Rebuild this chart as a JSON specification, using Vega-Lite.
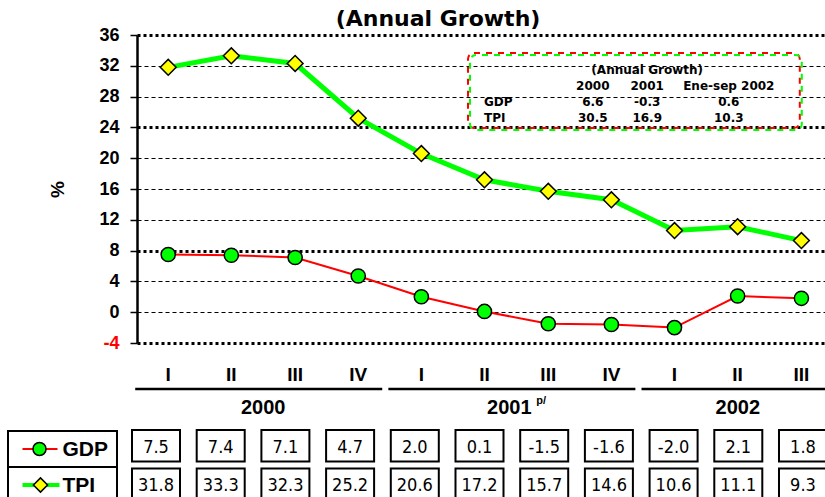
{
  "$schema": "https://vega.github.io/schema/vega-lite/v6.json",
  "width": 688,
  "height": 308,
  "autosize": {"type": "none"},
  "padding": {"left": 137, "top": 35, "right": 0, "bottom": 154},
  "background": "white",
  "config": {
    "view": {"stroke": null},
    "locale": {"number": {"decimal": ".", "thousands": ",", "grouping": [3], "currency": ["$", ""], "minus": "-"}}
  },
  "title": {
    "text": "(Annual Growth)",
    "font": "DejaVu Sans",
    "fontSize": 22,
    "fontWeight": "bold",
    "color": "black",
    "anchor": "middle",
    "frame": "group",
    "dx": -43,
    "offset": -5
  },
  "datasets": {
    "q": [
      {"date": "2000-02-15", "year": "2000", "q": "I", "GDP": 7.5, "TPI": 31.8},
      {"date": "2000-05-16", "year": "2000", "q": "II", "GDP": 7.4, "TPI": 33.3},
      {"date": "2000-08-16", "year": "2000", "q": "III", "GDP": 7.1, "TPI": 32.3},
      {"date": "2000-11-15", "year": "2000", "q": "IV", "GDP": 4.7, "TPI": 25.2},
      {"date": "2001-02-14", "year": "2001", "q": "I", "GDP": 2.0, "TPI": 20.6},
      {"date": "2001-05-16", "year": "2001", "q": "II", "GDP": 0.1, "TPI": 17.2},
      {"date": "2001-08-16", "year": "2001", "q": "III", "GDP": -1.5, "TPI": 15.7},
      {"date": "2001-11-15", "year": "2001", "q": "IV", "GDP": -1.6, "TPI": 14.6},
      {"date": "2002-02-14", "year": "2002", "q": "I", "GDP": -2.0, "TPI": 10.6},
      {"date": "2002-05-16", "year": "2002", "q": "II", "GDP": 2.1, "TPI": 11.1},
      {"date": "2002-08-16", "year": "2002", "q": "III", "GDP": 1.8, "TPI": 9.3}
    ],
    "legend": [{"series": "GDP"}, {"series": "TPI"}],
    "box": [{"name": "box"}],
    "inset": [
      {"row": "title", "col": "2001", "text": "(Annual Growth)"},
      {"row": "head", "col": "2000", "text": "2000"},
      {"row": "head", "col": "2001", "text": "2001"},
      {"row": "head", "col": "Ene-sep 2002", "text": "Ene-sep 2002"},
      {"row": "GDP", "col": "label", "text": "GDP"},
      {"row": "GDP", "col": "2000", "text": "6.6"},
      {"row": "GDP", "col": "2001", "text": "-0.3"},
      {"row": "GDP", "col": "Ene-sep 2002", "text": "0.6"},
      {"row": "TPI", "col": "label", "text": "TPI"},
      {"row": "TPI", "col": "2000", "text": "30.5"},
      {"row": "TPI", "col": "2001", "text": "16.9"},
      {"row": "TPI", "col": "Ene-sep 2002", "text": "10.3"}
    ]
  },
  "resolve": {"scale": {"x": "independent", "y": "independent"}},
  "layer": [
    {
      "data": {"name": "q", "format": {"parse": {"date": "date"}}},
      "transform": [{"fold": ["GDP", "TPI"], "as": ["series", "value"]}],
      "encoding": {
        "x": {
          "field": "date", "type": "temporal",
          "scale": {"domain": [{"year": 2000, "month": 1, "date": 1, "utc": true}, {"year": 2002, "month": 9, "date": 19, "utc": true}]},
          "axis": null
        },
        "y": {
          "field": "value", "type": "quantitative", "title": "%",
          "scale": {"domain": [-4, 36], "nice": false, "zero": false},
          "axis": {
            "values": [-4, 0, 4, 8, 12, 16, 20, 24, 28, 32, 36],
            "labelOverlap": false,
            "labelBound": false,
            "title": "%",
            "titleFont": "Liberation Sans", "titleFontSize": 19, "titleFontWeight": "bold", "titleColor": "black", "titlePadding": 31,
            "labelFont": "Liberation Sans", "labelFontSize": 18, "labelFontWeight": "bold",
            "labelColor": {"condition": {"test": "datum.value < 0", "value": "#ff0000"}, "value": "black"},
            "labelPadding": 11, "tickSize": 7, "tickColor": "black", "tickWidth": 1.5,
            "domainColor": "black", "domainWidth": 2.5,
            "grid": true, "gridColor": "black", "gridOpacity": 1,
            "gridDash": {"condition": {"test": "datum.value === 8 || datum.value === 24 || datum.value === 36 || datum.value === -4", "value": [3, 3]}, "value": [4, 3]},
            "gridWidth": {"condition": {"test": "datum.value === 8 || datum.value === 24 || datum.value === 36 || datum.value === -4", "value": 3}, "value": 1.2}
          }
        }
      },
      "layer": [
        {
          "transform": [{"filter": "datum.series === 'TPI'"}],
          "mark": {"type": "line", "color": "#00ff00", "strokeWidth": 5}
        },
        {
          "transform": [{"filter": "datum.series === 'GDP'"}],
          "mark": {"type": "line", "color": "#ff0000", "strokeWidth": 2}
        },
        {
          "transform": [{"filter": "datum.series === 'TPI'"}],
          "mark": {"type": "point", "shape": "diamond", "filled": true, "fill": "#ffff00", "stroke": "black", "strokeWidth": 1.5, "size": 250, "opacity": 1}
        },
        {
          "transform": [{"filter": "datum.series === 'GDP'"}],
          "mark": {"type": "point", "shape": "circle", "filled": true, "fill": "#00ff00", "stroke": "black", "strokeWidth": 1.5, "size": 200, "opacity": 1}
        }
      ]
    },
    {
      "data": {"name": "q", "format": {"parse": {"date": "date"}}},
      "encoding": {
        "x": {
          "field": "date", "type": "temporal",
          "scale": {"domain": [{"year": 2000, "month": 1, "date": 1, "utc": true}, {"year": 2002, "month": 9, "date": 19, "utc": true}]},
          "axis": null
        },
        "y": {"datum": "quarter", "type": "nominal", "scale": {"type": "point", "domain": ["quarter", "rule", "year"], "range": [340, 368], "padding": 0}, "axis": null}
      },
      "layer": [
        {
          "mark": {"type": "text", "font": "Liberation Sans", "fontSize": 19, "fontWeight": "bold", "baseline": "middle", "color": "black"},
          "encoding": {"text": {"field": "q"}}
        },
        {
          "transform": [{"aggregate": [{"op": "min", "field": "date", "as": "start"}, {"op": "max", "field": "date", "as": "end"}, {"op": "mean", "field": "date", "as": "mid"}], "groupby": ["year"]}],
          "layer": [
            {
              "mark": {"type": "rule", "color": "black", "strokeWidth": 2.5, "xOffset": -33, "x2Offset": 24},
              "encoding": {"x": {"field": "start", "type": "temporal"}, "x2": {"field": "end"}, "y": {"datum": "rule", "type": "nominal"}}
            },
            {
              "transform": [{"filter": "datum.year !== '2001'"}],
              "mark": {"type": "text", "font": "Liberation Sans", "fontSize": 20, "fontWeight": "bold", "baseline": "middle", "color": "black", "dy": 5},
              "encoding": {"x": {"field": "mid", "type": "temporal"}, "y": {"datum": "year", "type": "nominal"}, "text": {"field": "year"}}
            },
            {
              "transform": [{"filter": "datum.year === '2001'"}],
              "mark": {"type": "text", "font": "Liberation Sans", "fontSize": 20, "fontWeight": "bold", "baseline": "middle", "color": "black", "dy": 5, "dx": -7},
              "encoding": {"x": {"field": "mid", "type": "temporal"}, "y": {"datum": "year", "type": "nominal"}, "text": {"field": "year"}}
            },
            {
              "transform": [{"filter": "datum.year === '2001'"}],
              "mark": {"type": "text", "text": "p/", "font": "Liberation Sans", "fontSize": 11, "fontWeight": "bold", "align": "left", "baseline": "middle", "color": "black", "dx": 20, "dy": -2},
              "encoding": {"x": {"field": "mid", "type": "temporal"}, "y": {"datum": "year", "type": "nominal"}}
            }
          ]
        }
      ]
    },
    {
      "data": {"name": "q"},
      "transform": [{"fold": ["GDP", "TPI"], "as": ["series", "value"]}],
      "encoding": {
        "x": {"field": "date", "timeUnit": "yearquarter", "type": "ordinal", "scale": {"type": "band", "range": [-5, 690], "paddingInner": 0.258, "paddingOuter": 0}, "axis": null},
        "y": {"field": "series", "type": "nominal", "scale": {"type": "band", "domain": ["GDP", "TPI"], "range": [395, 465], "paddingInner": 0.182, "paddingOuter": 0}, "axis": null}
      },
      "layer": [
        {"mark": {"type": "rect", "fill": "white", "stroke": "black", "strokeWidth": 2}},
        {
          "mark": {"type": "text", "font": "DejaVu Sans Condensed, DejaVu Sans", "fontSize": 18, "baseline": "middle", "color": "black", "dy": 2},
          "encoding": {"text": {"field": "value", "type": "quantitative", "format": ".1f"}}
        }
      ]
    },
    {
      "data": {"name": "legend"},
      "encoding": {
        "x": {"datum": "legend", "type": "nominal", "scale": {"type": "band", "domain": ["legend"], "range": [-129, -20], "paddingInner": 0, "paddingOuter": 0}, "axis": null},
        "y": {"field": "series", "type": "nominal", "scale": {"type": "band", "domain": ["GDP", "TPI"], "range": [396, 468], "paddingInner": 0, "paddingOuter": 0}, "axis": null}
      },
      "layer": [
        {"mark": {"type": "rect", "fill": "white", "stroke": "black", "strokeWidth": 2}},
        {
          "transform": [{"filter": "datum.series === 'GDP'"}],
          "mark": {"type": "rule", "color": "#ff0000", "strokeWidth": 2, "xOffset": -40, "x2Offset": -5},
          "encoding": {"x2": {"datum": "legend"}}
        },
        {
          "transform": [{"filter": "datum.series === 'TPI'"}],
          "mark": {"type": "rule", "color": "#00ff00", "strokeWidth": 4, "xOffset": -40, "x2Offset": -3},
          "encoding": {"x2": {"datum": "legend"}}
        },
        {
          "transform": [{"filter": "datum.series === 'GDP'"}],
          "mark": {"type": "point", "shape": "circle", "filled": true, "fill": "#00ff00", "stroke": "black", "strokeWidth": 1.5, "size": 170, "opacity": 1, "xOffset": -23}
        },
        {
          "transform": [{"filter": "datum.series === 'TPI'"}],
          "mark": {"type": "point", "shape": "diamond", "filled": true, "fill": "#ffff00", "stroke": "black", "strokeWidth": 1.5, "size": 200, "opacity": 1, "xOffset": -22}
        },
        {
          "mark": {"type": "text", "align": "left", "baseline": "middle", "font": "Liberation Sans", "fontSize": 21, "fontWeight": "bold", "color": "black", "dx": 0, "dy": 1},
          "encoding": {"text": {"field": "series"}}
        }
      ]
    },
    {
      "encoding": {
        "x": {"field": "col", "type": "nominal", "scale": {"type": "point", "domain": ["label", "s1", "s2", "s3", "2000", "s5", "2001", "s7", "s8", "Ene-sep 2002"], "range": [347, 591.8], "padding": 0}, "axis": null},
        "y": {"field": "row", "type": "nominal", "scale": {"type": "point", "domain": ["title", "head", "GDP", "TPI"], "range": [35, 83], "padding": 0}, "axis": null}
      },
      "layer": [
        {
          "data": {"name": "box"},
          "mark": {"type": "rect", "fill": null, "stroke": "#ff0000", "strokeWidth": 2, "strokeDash": [6, 6], "cornerRadius": 6, "xOffset": -16, "x2Offset": 71, "yOffset": -17, "y2Offset": 10},
          "encoding": {"x": {"datum": "label"}, "x2": {"datum": "Ene-sep 2002"}, "y": {"datum": "title"}, "y2": {"datum": "TPI"}}
        },
        {
          "data": {"name": "box"},
          "mark": {"type": "rect", "fill": null, "stroke": "#00ff00", "strokeWidth": 2, "strokeDash": [6, 6], "strokeDashOffset": 6, "cornerRadius": 6, "xOffset": -14, "x2Offset": 73, "yOffset": -15, "y2Offset": 12},
          "encoding": {"x": {"datum": "label"}, "x2": {"datum": "Ene-sep 2002"}, "y": {"datum": "title"}, "y2": {"datum": "TPI"}}
        },
        {
          "data": {"name": "inset"},
          "transform": [{"filter": "datum.col !== 'label'"}],
          "mark": {"type": "text", "font": "DejaVu Sans", "fontSize": 12, "fontWeight": "bold", "align": "center", "baseline": "middle", "color": "black"},
          "encoding": {"text": {"field": "text"}}
        },
        {
          "data": {"name": "inset"},
          "transform": [{"filter": "datum.col === 'label'"}],
          "mark": {"type": "text", "font": "DejaVu Sans", "fontSize": 12, "fontWeight": "bold", "align": "left", "baseline": "middle", "color": "black"},
          "encoding": {"text": {"field": "text"}}
        }
      ]
    }
  ]
}
